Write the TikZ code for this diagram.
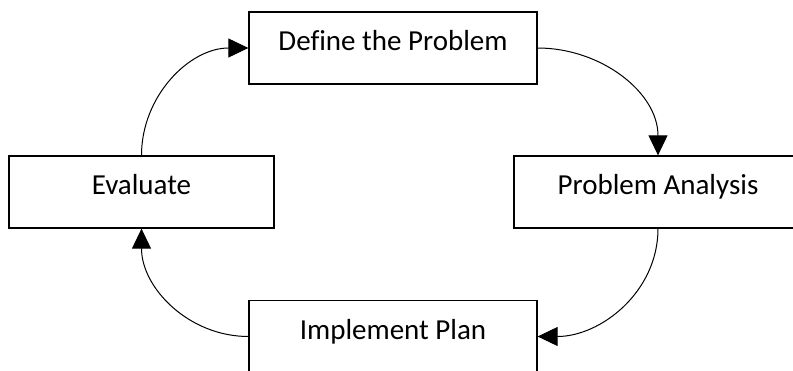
\documentclass[tikz,border=0pt]{standalone}
\usepackage{fontspec}
\setmainfont[Ligatures=CommonOff]{Carlito}
\usetikzlibrary{arrows.meta}

\tikzset{
  stage/.style={draw=black, line width=1.3pt, fill=white, rectangle,
    minimum height=72pt, inner sep=0pt,
    % baseline sits 3pt below the box centre
    text height=6pt, text depth=0pt,
    font=\fontsize{29}{34}\selectfont},
  flow/.style={line width=1pt,
    -{Triangle[length=20pt,width=19pt]}},
}

\begin{document}
\begin{tikzpicture}[x=1pt,y=-1pt]
  \useasboundingbox (0,0) rectangle (793,371);
  \clip (0,0) rectangle (793,371);

  % process stages
  \node[stage, minimum width=288pt] (def) at (393,48)    {Define the Problem};
  \node[stage, minimum width=288pt] (ana) at (658,192)   {Problem Analysis};
  \node[stage, minimum width=265pt] (eva) at (141.5,192) {Evaluate};
  \node[stage, minimum width=288pt] (imp) at (393,336.5) {Implement Plan};

  % cycle connectors
  \draw[flow] (def.east)  to[out=0,in=90]    (ana.north);
  \draw[flow] (ana.south) to[out=-90,in=0]   (imp.east);
  \draw[flow] (imp.west)  to[out=180,in=-90] (eva.south);
  \draw[flow] (eva.north) to[out=90,in=180]  (def.west);
\end{tikzpicture}
\end{document}
